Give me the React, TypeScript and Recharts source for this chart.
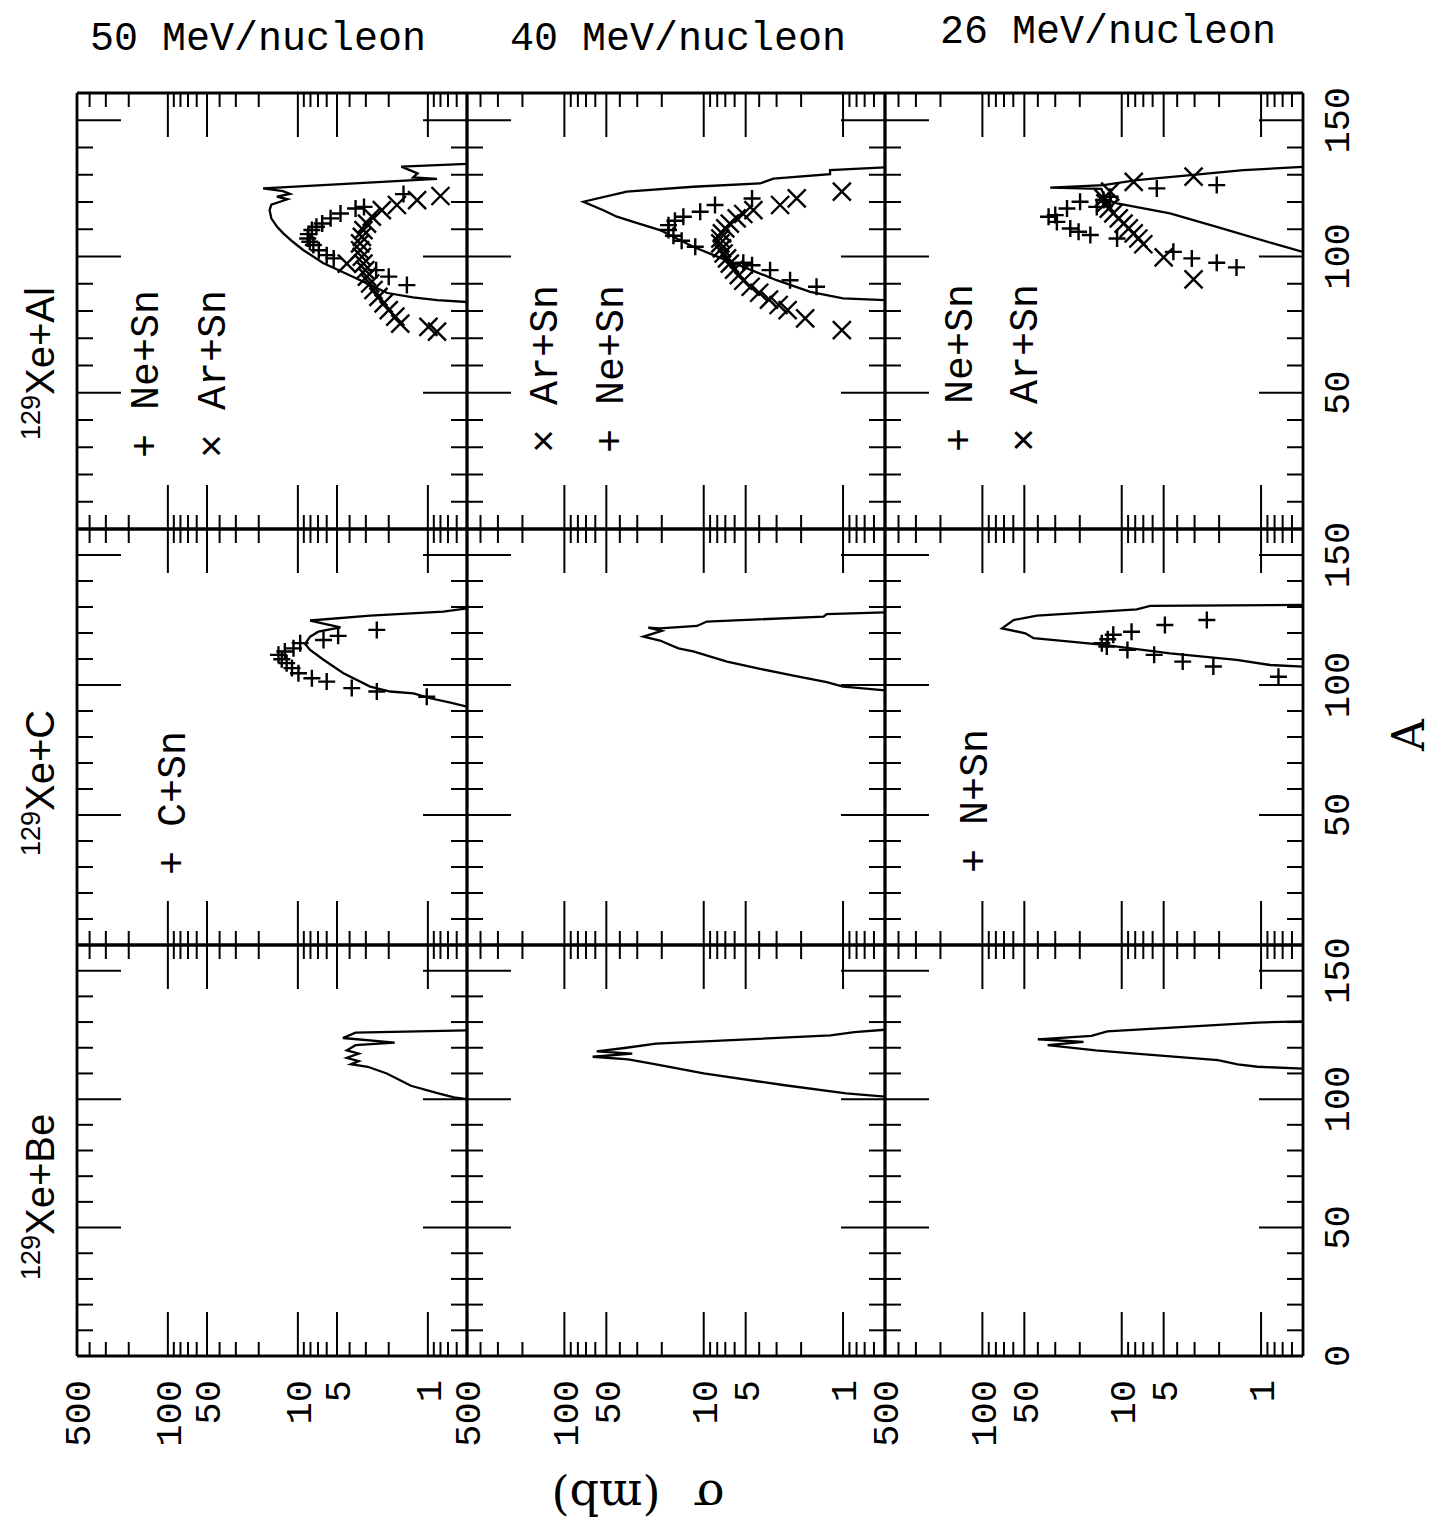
import React from 'react';
import { ScatterChart, Scatter, XAxis, YAxis } from 'recharts';

// ---------- axis ticks ----------
const S_TICKS = [500, 400, 300, 200, 100, 90, 80, 70, 60, 50, 40, 30, 20, 10, 9, 8, 7, 6, 5, 4, 3, 2, 1, 0.9, 0.8, 0.7, 0.6, 0.5];
const S_MAJOR = [100, 50, 10, 5, 1];
const S_LABELS = [500, 100, 50, 10, 5, 1];
const A_TICKS = [0, 10, 20, 30, 40, 50, 60, 70, 80, 90, 100, 110, 120, 130, 140, 150, 160];
const A_MAJOR = [50, 100, 150];
const A_LABELS = [50, 100, 150];

// ---------- titles / labels ----------
const ENERGIES = ['50 MeV/nucleon', '40 MeV/nucleon', '26 MeV/nucleon'];
const SYSTEMS = ['Xe+Al', 'Xe+C', 'Xe+Be'];

// ---------- data: [A, sigma(mb)] ----------
const CURVE_50_AL = [[134, 0.5], [133, 1.6], [130.5, 1.2], [129, 1.3], [128.5, 0.85], [125, 18.5], [124, 13], [123, 11.5], [122, 14.5], [121, 12], [119, 16], [117, 16.5], [114, 16], [111, 14.5], [108.6, 13], [105.5, 11], [102.4, 9.1], [97.6, 6.4], [92.5, 3.74], [88.5, 2.5], [86.6, 2.05], [85, 1.3], [84, 0.85], [83.3, 0.5]];
const NE_50_AL = [[122.9, 1.54], [118.2, 3.1], [117.6, 3.6], [115.8, 4.7], [114, 5.6], [112.1, 6.5], [110.9, 7.2], [109.7, 7.8], [108.2, 8.3], [106.6, 8.4], [105.4, 8.1], [104.2, 7.6], [102.3, 6.9], [100.5, 6.0], [99.3, 5.3], [95, 2.5], [92.6, 2.0], [89.5, 1.45]];
const AR_50_AL = [[122.2, 0.8], [120.7, 1.21], [118.9, 1.73], [117, 2.26], [114.6, 2.7], [112.1, 2.94], [109.7, 3.13], [107.2, 3.22], [104.8, 3.32], [102.3, 3.32], [99.9, 3.22], [97.4, 3.13], [95, 3.03], [92.6, 2.94], [90.1, 2.78], [87.7, 2.62], [85.2, 2.4], [82.8, 2.19], [80.3, 2.0], [77.9, 1.78], [75.4, 1.63], [74.2, 0.99], [72.4, 0.85], [97.4, 4.2]];

const CURVE_40_AL = [[132.7, 0.5], [131.7, 1.24], [130.2, 1.24], [128.6, 3.16], [126.8, 3.94], [125.6, 11.9], [123.8, 35.7], [120.1, 73], [117, 52.5], [114.6, 42], [112.7, 32], [109.7, 20.6], [103.6, 11.9], [100.5, 8.5], [96.2, 5.2], [91.3, 3.0], [87, 1.72], [84.6, 1.0], [84, 0.5]];
const NE_40_AL = [[121.3, 4.5], [118.9, 8.3], [116.4, 10.6], [114.6, 14], [113.1, 16.1], [111.5, 17.9], [109.7, 17.9], [107.6, 16.5], [105.8, 14.4], [103.6, 11.5], [97.7, 5.2], [96.8, 4.5], [95, 3.34], [91.3, 2.4], [88.9, 1.55]];
const AR_40_AL = [[123.8, 1.02], [121.3, 2.15], [118.9, 2.83], [117, 4.4], [115.6, 5.2], [114, 5.8], [112.1, 6.5], [110.3, 7.0], [108.5, 7.4], [106.6, 7.6], [104.8, 7.6], [103, 7.4], [101.1, 7.2], [99.3, 6.8], [97.4, 6.5], [95.2, 6.05], [93.2, 5.6], [91.1, 5.2], [88.9, 4.6], [86.7, 4.0], [84.2, 3.4], [82.2, 2.9], [80.3, 2.5], [77.3, 1.87], [73, 1.02]];

const CURVE_26_AL = [[132.9, 0.5], [131.7, 1.34], [129.9, 3.2], [128, 7.8], [126.2, 13.5], [125.3, 32.6], [124.8, 14], [121, 13], [119.5, 10.8], [115.8, 4.5], [110.9, 2.08], [104.8, 0.82], [101.7, 0.5]];
const NE_26_AL = [[126.2, 2.08], [125, 5.6], [121.9, 12.1], [120.7, 13.5], [120.1, 19.9], [118.2, 15.1], [117.6, 24.7], [115.2, 30], [114.6, 33.5], [112.7, 29.2], [110.3, 23.4], [109.1, 20.4], [107.9, 16.8], [106.6, 10.8], [101.7, 4.26], [99.3, 3.14], [97.7, 2.08], [96, 1.5]];
const AR_26_AL = [[129.3, 3.05], [127.4, 8.2], [123.8, 12.1], [121.3, 13.5], [119.5, 13.1], [117.6, 12.4], [115.8, 11.5], [114, 10.5], [112.1, 9.7], [110.3, 8.9], [108.5, 8.2], [106.6, 7.6], [104.5, 7.0], [99.7, 5.0], [91.6, 3.05]];

const CURVE_50_C = [[129.5, 0.5], [128.2, 0.76], [126.7, 2.78], [124.8, 8.05], [122.2, 4.7], [120.5, 6.95], [118.6, 8.05], [115.8, 8.8], [113.5, 8.05], [109.7, 6.35], [104.5, 4.46], [99.4, 2.78], [97.5, 1.95], [96.8, 1.29], [94.9, 0.96], [93.2, 0.67], [91.7, 0.5]];
const C_50_C = [[121.2, 2.47], [118.9, 4.9], [117.3, 6.35], [116.1, 9.6], [114.1, 10.8], [112.9, 12.6], [111.6, 14.1], [109.9, 13.3], [108.4, 12.2], [106.5, 11.1], [104.5, 9.9], [102.6, 7.8], [101.3, 6.0], [98.8, 3.85], [97.5, 2.47], [95.5, 1.02]];

const CURVE_40_C = [[127.9, 0.5], [127.3, 1.31], [126.3, 1.38], [124.4, 9.5], [122.7, 11.2], [121.8, 20.6], [122.1, 25], [120.8, 20], [118.6, 27.1], [117.1, 20.6], [114.1, 15.2], [112.9, 11.9], [109, 6.8], [106.2, 3.94], [103.6, 2.27], [101.1, 1.31], [99.4, 1.0], [98.8, 0.75], [97.9, 0.5]];

const CURVE_26_C = [[130.8, 0.5], [130.4, 6.25], [129.1, 7.8], [126.7, 40.6], [125, 59.7], [121.8, 72.3], [119.9, 49.2], [118, 42.9], [116.7, 23.4], [115.4, 13.5], [112.2, 4.5], [109.7, 1.5], [107.7, 0.86], [107.1, 0.5]];
const N_26_C = [[125, 2.45], [123.1, 4.9], [120.5, 8.5], [119.3, 11.5], [117.6, 12.6], [116.1, 13.9], [114.8, 12.8], [113.5, 9.1], [111.6, 5.85], [109, 3.65], [107.1, 2.2], [103.2, 0.75]];

const CURVE_50_BE = [[126.8, 0.5], [125.9, 3.6], [123.8, 4.5], [122, 1.8], [121, 3.6], [119, 4.2], [117.7, 3.4], [116.1, 4.2], [114.8, 3.4], [113.6, 3.9], [112.6, 2.9], [110, 2.07], [105.2, 1.35], [102.2, 0.83], [100.7, 0.63], [100, 0.5]];
const CURVE_40_BE = [[127, 0.5], [126.1, 0.83], [124.8, 1.23], [121.6, 22], [119.9, 37], [118.6, 58.6], [117.7, 32.6], [116.5, 62.7], [115.5, 34.8], [113.5, 22], [110, 10], [105.5, 2.7], [102.2, 0.95], [101, 0.5]];
const CURVE_26_BE = [[130.3, 0.5], [129.8, 1.06], [126.4, 12.7], [124.6, 16.5], [123.3, 40], [122.3, 18.8], [121, 34], [119, 15.4], [118.1, 9.8], [115.2, 2.04], [113.5, 1.47], [112.6, 1.06], [111.9, 0.5]];

// ---------- layout ----------
const COLS = [{ x: 77, w: 390 }, { x: 467, w: 418 }, { x: 885, w: 418 }];
const ROWS = [{ y: 93, h: 436 }, { y: 529, h: 416 }, { y: 945, h: 411 }];

const MONO = '"Liberation Mono", "DejaVu Sans Mono", monospace';
const SANS = '"Liberation Sans", Arial, sans-serif';
const SERIF = '"DejaVu Serif", "Liberation Serif", serif';
const INK = '#000';

type Pair = number[];
const toPts = (arr: Pair[]) => arr.map(([A, s]) => ({ A, s }));

const EmptyShape = () => <g />;
const PlusShape = (p: any) => {
  const { cx, cy } = p;
  const h = 8.5;
  return <path d={`M${cx - h},${cy}H${cx + h}M${cx},${cy - h}V${cy + h}`} stroke={INK} strokeWidth={2.4} fill="none" />;
};
const CrossShape = (p: any) => {
  const { cx, cy } = p;
  const h = 9;
  return <path d={`M${cx - h},${cy - h}L${cx + h},${cy + h}M${cx - h},${cy + h}L${cx + h},${cy - h}`} stroke={INK} strokeWidth={2.4} fill="none" />;
};

const isEdgeS = (v: number) => v === 500 || v === 0.5;
const isEdgeA = (v: number) => v === 0 || v === 160;

const TopTick = (p: any) => {
  const v = p.payload.value;
  if (isEdgeS(v)) return <g />;
  const len = S_MAJOR.includes(v) ? 44 : 14;
  return <line x1={p.x} y1={p.y} x2={p.x} y2={p.y + len} stroke={INK} strokeWidth={2} />;
};
const makeBottomTick = (labels: boolean) => (p: any) => {
  const v = p.payload.value;
  const len = S_MAJOR.includes(v) ? 44 : 14;
  const ly = p.y + 24;
  return (
    <g>
      {!isEdgeS(v) && <line x1={p.x} y1={p.y} x2={p.x} y2={p.y - len} stroke={INK} strokeWidth={2} />}
      {labels && S_LABELS.includes(v) && (
        <text x={p.x} y={ly} transform={`rotate(-90 ${p.x} ${ly})`} textAnchor="end" dy="0.36em" fontFamily={MONO} fontSize={37} fill={INK}>
          {v}
        </text>
      )}
    </g>
  );
};
const LeftTick = (p: any) => {
  const v = p.payload.value;
  if (isEdgeA(v)) return <g />;
  const len = A_MAJOR.includes(v) ? 44 : 16;
  return <line x1={p.x} y1={p.y} x2={p.x + len} y2={p.y} stroke={INK} strokeWidth={2} />;
};
const makeRightTick = (labels: boolean, zero: boolean) => (p: any) => {
  const v = p.payload.value;
  const len = A_MAJOR.includes(v) ? 44 : 16;
  const lx = p.x + 33;
  const show = labels && (A_LABELS.includes(v) || (zero && v === 0));
  return (
    <g>
      {!isEdgeA(v) && <line x1={p.x} y1={p.y} x2={p.x - len} y2={p.y} stroke={INK} strokeWidth={2} />}
      {show && (
        <text x={lx} y={p.y} transform={`rotate(-90 ${lx} ${p.y})`} textAnchor="middle" dy="0.36em" fontFamily={MONO} fontSize={37} fill={INK}>
          {v}
        </text>
      )}
    </g>
  );
};

const AXIS_LINE = { stroke: INK, strokeWidth: 2.8 };

type PanelDef = { r: number; c: number; curve: Pair[]; plus?: Pair[]; cross?: Pair[] };
const PANELS: PanelDef[] = [
  { r: 0, c: 0, curve: CURVE_50_AL, plus: NE_50_AL, cross: AR_50_AL },
  { r: 0, c: 1, curve: CURVE_40_AL, plus: NE_40_AL, cross: AR_40_AL },
  { r: 0, c: 2, curve: CURVE_26_AL, plus: NE_26_AL, cross: AR_26_AL },
  { r: 1, c: 0, curve: CURVE_50_C, plus: C_50_C },
  { r: 1, c: 1, curve: CURVE_40_C },
  { r: 1, c: 2, curve: CURVE_26_C, plus: N_26_C },
  { r: 2, c: 0, curve: CURVE_50_BE },
  { r: 2, c: 1, curve: CURVE_40_BE },
  { r: 2, c: 2, curve: CURVE_26_BE },
];

function Panel({ r, c, curve, plus, cross }: PanelDef) {
  const col = COLS[c];
  const row = ROWS[r];
  const common = { type: 'number' as const, allowDataOverflow: true, interval: 0 as const, mirror: true, tickSize: 0, tickMargin: 0, tickLine: false, axisLine: AXIS_LINE };
  return (
    <div style={{ position: 'absolute', left: col.x, top: row.y, width: col.w, height: row.h }}>
      <ScatterChart width={col.w} height={row.h} margin={{ top: 0, right: 0, bottom: 0, left: 0 }}>
        <XAxis xAxisId="b" orientation="bottom" dataKey="s" scale="log" domain={[0.5, 500]} reversed ticks={S_TICKS} height={1} tick={makeBottomTick(r === 2)} {...common} />
        <XAxis xAxisId="t" orientation="top" dataKey="s" scale="log" domain={[0.5, 500]} reversed ticks={S_TICKS} height={1} tick={TopTick} {...common} />
        <YAxis yAxisId="l" orientation="left" dataKey="A" domain={[0, 160]} ticks={A_TICKS} width={1} tick={LeftTick} {...common} />
        <YAxis yAxisId="r" orientation="right" dataKey="A" domain={[0, 160]} ticks={A_TICKS} width={1} tick={makeRightTick(c === 2, r === 2)} {...common} />
        <Scatter xAxisId="b" yAxisId="l" data={toPts(curve)} line={{ stroke: INK, strokeWidth: 2.3 }} shape={EmptyShape} isAnimationActive={false} />
        {plus && <Scatter xAxisId="b" yAxisId="l" data={toPts(plus)} shape={PlusShape} isAnimationActive={false} />}
        {cross && <Scatter xAxisId="b" yAxisId="l" data={toPts(cross)} shape={CrossShape} isAnimationActive={false} />}
      </ScatterChart>
    </div>
  );
}

// legend text placements: [baselineX, startY, text]
const LEGENDS: [number, number, string][] = [
  [158, 458, '+ Ne+Sn'],
  [225, 458, '\u00d7 Ar+Sn'],
  [557, 453, '\u00d7 Ar+Sn'],
  [623, 453, '+ Ne+Sn'],
  [972, 452, '+ Ne+Sn'],
  [1037, 452, '\u00d7 Ar+Sn'],
  [185, 875, '+ C+Sn'],
  [987, 873, '+ N+Sn'],
];
const TITLE_POS = [[90, 50], [510, 50], [940, 43]];
const SYSTEM_POS = [[54, 440], [54, 856], [54, 1280]];

function Overlay() {
  return (
    <svg width={1436} height={1529} style={{ position: 'absolute', left: 0, top: 0, pointerEvents: 'none' }}>
      {ENERGIES.map((t, i) => (
        <text key={t} x={TITLE_POS[i][0]} y={TITLE_POS[i][1]} fontFamily={MONO} fontSize={40} fill={INK}>
          {t}
        </text>
      ))}
      {SYSTEMS.map((t, i) => {
        const [x, y] = SYSTEM_POS[i];
        return (
          <text key={t} x={x} y={y} transform={`rotate(-90 ${x} ${y})`} fontFamily={SANS} fontSize={40} fill={INK}>
            <tspan fontSize={27} dy={-14}>129</tspan>
            <tspan dy={14}>{t}</tspan>
          </text>
        );
      })}
      {LEGENDS.map(([x, y, t], i) => (
        <text key={i} x={x} y={y} transform={`rotate(-90 ${x} ${y})`} fontFamily={MONO} fontSize={40} fill={INK}>
          {t}
        </text>
      ))}
      <text x={1408} y={735} transform="rotate(-90 1408 735)" textAnchor="middle" dy="0.36em" fontFamily={SERIF} fontSize={44} fill={INK}>
        A
      </text>
      <text x={638} y={1481} transform="rotate(180 638 1481)" textAnchor="middle" fontFamily={SERIF} fontSize={46} fill={INK} style={{ wordSpacing: 18 }}>
        {'\u03c3 (mb)'}
      </text>
    </svg>
  );
}

export default function App() {
  return (
    <div style={{ position: 'absolute', left: 0, top: 0, width: 1436, height: 1529, background: '#fff' }}>
      <style>{'.recharts-surface{overflow:visible}.recharts-wrapper{overflow:visible}'}</style>
      {PANELS.map((p, i) => (
        <Panel key={i} {...p} />
      ))}
      <Overlay />
    </div>
  );
}
